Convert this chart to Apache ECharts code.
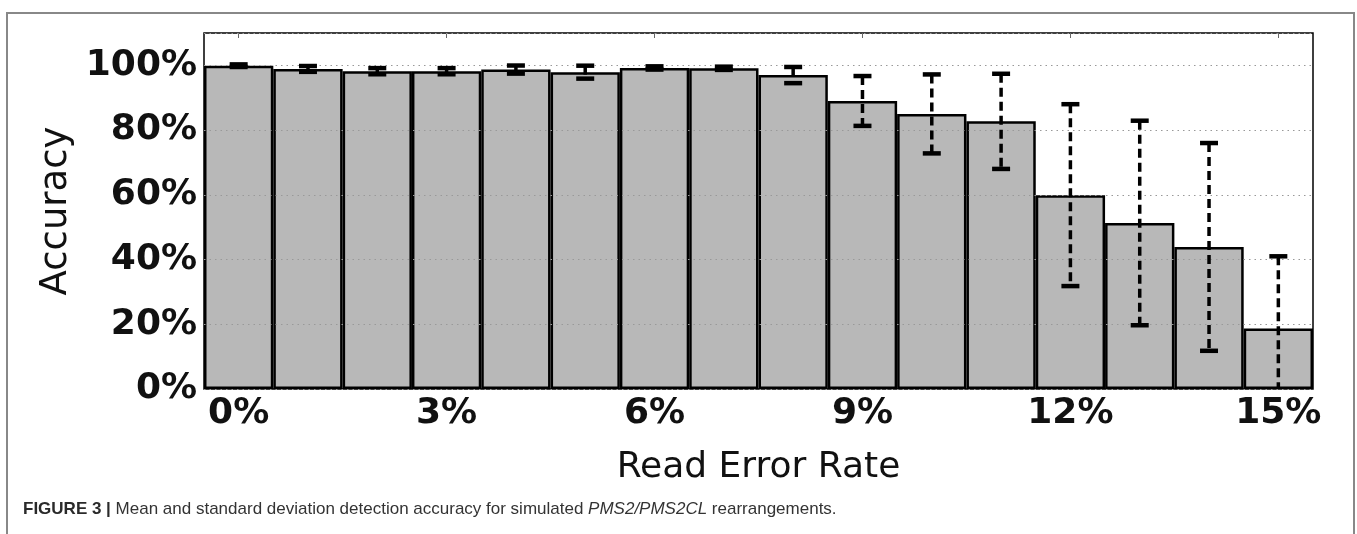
<!DOCTYPE html>
<html>
<head>
<meta charset="utf-8">
<script src="https://cdn.jsdelivr.net/npm/echarts@6/dist/echarts.min.js"></script>
<style>
html,body{margin:0;padding:0;background:#fff;}
#chart{width:1357px;height:534px;}
</style>
</head>
<body>
<div id="chart"></div>
<script>
const categories = ['0%','1%','2%','3%','4%','5%','6%','7%','8%','9%','10%','11%','12%','13%','14%','15%'];
const means = [99.9, 98.9, 98.2, 98.2, 98.7, 97.9, 99.2, 99.1, 97.0, 89.0, 85.0, 82.7, 59.9, 51.3, 43.9, 18.7];
const stds  = [0.4, 0.9, 0.95, 0.95, 1.25, 2.0, 0.5, 0.5, 2.5, 7.7, 12.2, 14.7, 28.1, 31.6, 32.1, 22.3];
const yTicks = [0, 20, 40, 60, 80, 100];
const yMax = 110;
const caption = {
  label: 'FIGURE 3 |',
  before: ' Mean and standard deviation detection accuracy for simulated ',
  gene: 'PMS2/PMS2CL',
  after: ' rearrangements.'
};

const chart = echarts.init(document.getElementById('chart'), null, {renderer: 'canvas'});

const errData = categories.map((c, i) => [i, means[i], stds[i]]);

function renderErr(params, api) {
  const x = api.value(0), m = api.value(1), s = api.value(2);
  const hi = m + s;
  const lo = m - s;
  const pTop = api.coord([x, hi]);
  const pBot = api.coord([x, Math.max(lo, 0)]);
  const capW = 18;
  const children = [
    {type: 'line', shape: {x1: pTop[0], y1: pTop[1], x2: pBot[0], y2: pBot[1]},
     style: {stroke: '#000', lineWidth: 3.5, lineDash: [9, 5]}},
    {type: 'line', shape: {x1: pTop[0] - capW / 2, y1: pTop[1], x2: pTop[0] + capW / 2, y2: pTop[1]},
     style: {stroke: '#000', lineWidth: 4.5}}
  ];
  if (lo >= 0) {
    children.push({type: 'line', shape: {x1: pBot[0] - capW / 2, y1: pBot[1], x2: pBot[0] + capW / 2, y2: pBot[1]},
      style: {stroke: '#000', lineWidth: 4.5}});
  }
  return {type: 'group', children: children};
}

const tickFont = {fontFamily: 'DejaVu Sans', fontWeight: 'bold', fontSize: 36, color: '#111'};

chart.setOption({
  animation: false,
  grid: {left: 204, top: 33, right: 44, bottom: 145, show: true, borderColor: '#000', borderWidth: 1.5, backgroundColor: 'transparent'},
  xAxis: [{
    type: 'category',
    data: categories,
    position: 'bottom',
    axisLine: {show: false},
    axisTick: {show: true, inside: true, interval: 2, alignWithLabel: true, length: 5, lineStyle: {color: '#666', width: 1}},
    axisLabel: Object.assign({interval: 2, margin: 7}, tickFont),
    name: 'Read Error Rate',
    nameLocation: 'middle',
    nameGap: 61,
    nameTextStyle: {fontFamily: 'DejaVu Sans', fontSize: 36, color: '#111'}
  }, {
    type: 'category',
    data: categories,
    position: 'top',
    axisLine: {show: false},
    axisTick: {show: true, inside: true, interval: 2, alignWithLabel: true, length: 5, lineStyle: {color: '#666', width: 1}},
    axisLabel: {show: false}
  }],
  yAxis: {
    type: 'value',
    min: 0,
    max: yMax,
    interval: 20,
    z: 3,
    axisLine: {show: false},
    axisTick: {show: false},
    axisLabel: Object.assign({margin: 7, showMaxLabel: false,
      formatter: v => (yTicks.indexOf(v) >= 0 ? v + '%' : '')}, tickFont),
    splitLine: {show: true, lineStyle: {color: '#999', width: 1.2, type: [1.5, 4]}},
    name: 'Accuracy',
    nameLocation: 'middle',
    nameGap: 127,
    nameTextStyle: {fontFamily: 'DejaVu Sans', fontSize: 37, color: '#111'}
  },
  series: [{
    type: 'bar',
    data: means,
    barWidth: '100%',
    barCategoryGap: 0,
    z: 2,
    itemStyle: {color: '#b8b8b8', borderColor: '#000', borderWidth: 2.5},
    silent: true
  }, {
    type: 'custom',
    data: errData,
    renderItem: renderErr,
    clip: true,
    z: 5,
    silent: true
  }],
  graphic: [{
    type: 'rect',
    shape: {x: 7, y: 13, width: 1347, height: 600},
    style: {fill: 'none', stroke: '#888', lineWidth: 2},
    silent: true
  }, {
    type: 'text',
    left: 23,
    top: 501,
    style: {
      text: '{b|' + caption.label + '}' + caption.before + '{i|' + caption.gene + '}' + caption.after,
      fontFamily: 'Liberation Sans',
      fontSize: 17,
      fill: '#333',
      rich: {
        b: {fontFamily: 'Liberation Sans', fontWeight: 'bold', fontSize: 17, fill: '#2a2a2a'},
        i: {fontFamily: 'Liberation Sans', fontStyle: 'italic', fontSize: 17, fill: '#333'}
      }
    },
    silent: true
  }]
});
</script>
</body>
</html>
